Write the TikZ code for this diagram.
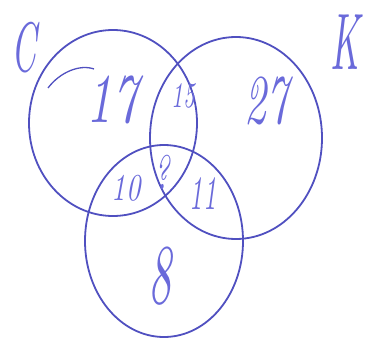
\documentclass[tikz,border=0pt]{standalone}
\begin{document}
\begin{tikzpicture}[x=1pt,y=-1pt,
  ring/.style={draw=ringblue,line width=1.8pt},
  hand/.style={text=textblue,font=\itshape,inner sep=0pt},
  ]
\definecolor{ringblue}{HTML}{5050C0}
\definecolor{textblue}{HTML}{6A6ADA}
\useasboundingbox (0,0) rectangle (366,337);
\draw[ring] (113,123) ellipse [x radius=84, y radius=93];
\draw[ring] (236,138) ellipse [x radius=86, y radius=101];
\draw[ring] (164,241) ellipse [x radius=79, y radius=96];
\draw[ring,line width=1.3pt] (48,88) .. controls (60,72) and (80,64) .. (94,69);
\node[hand,xscale=3.5,yscale=7] (c) at (24,48) {C};
\node[hand,xscale=3.8,yscale=8] (k) at (345,42) {K};
\node[hand,xscale=5,yscale=7] (n17) at (112,100) {17};
\node[hand,xscale=2.3,yscale=3.6] (n15) at (183,96) {15};
\node[hand,xscale=4.3,yscale=7] (n27) at (266,101) {27};
\node[hand,xscale=3,yscale=4.8] (q) at (162,172) {?};
\node[hand,xscale=2.8,yscale=3.8] (n10) at (126,188) {10};
\node[hand,xscale=2.6,yscale=4.8] (n11) at (203,194) {11};
\node[hand,xscale=4.5,yscale=8.5] (n8) at (160,276) {8};
\end{tikzpicture}
\end{document}
